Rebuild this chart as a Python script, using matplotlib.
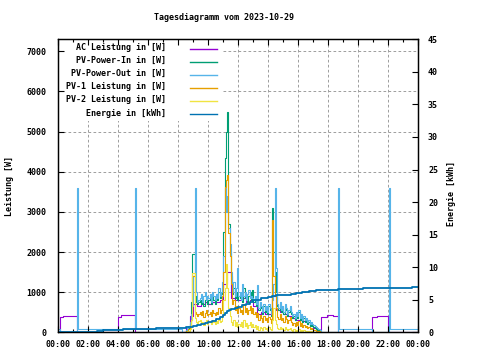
import numpy as np
import matplotlib
matplotlib.use("Agg")
import matplotlib.pyplot as plt
from matplotlib.lines import Line2D
from matplotlib.patches import Rectangle

# ---------------- data ----------------
title = "Tagesdiagramm vom 2023-10-29"
labels = ["AC Leistung in [W]", "PV-Power-In in [W]", "PV-Power-Out in [W]",
          "PV-1 Leistung in [W]", "PV-2 Leistung in [W]", "Energie in [kWh]"]
colors = ["#9400D3", "#009E73", "#56B4E9", "#E69F00", "#F0E442", "#0072B2"]

x_ticks = [0, 2, 4, 6, 8, 10, 12, 14, 16, 18, 20, 22, 24]
x_ticklabels = ["00:00", "02:00", "04:00", "06:00", "08:00", "10:00", "12:00",
                "14:00", "16:00", "18:00", "20:00", "22:00", "00:00"]
y_ticks = [0, 1000, 2000, 3000, 4000, 5000, 6000, 7000]
y2_ticks = [0, 5, 10, 15, 20, 25, 30, 35, 40, 45]

# daytime samples every 5 minutes, 08:30 .. 17:30 (hours)
day_start = 8.5
day_step = 5 / 60

pv_in_day = [30, 50, 100, 200, 760, 1950,
             1950, 900, 750, 700, 750, 800, 700, 850, 650, 800, 900, 700,
             800, 850, 700, 900, 800, 700, 850, 800, 1000, 850, 950, 1100,
             2500, 4350, 5000, 5490, 2700, 2000, 1400, 950, 1100, 850, 1000, 800,
             900, 850, 950, 750, 1100, 850, 950, 750, 900, 1000, 800, 1050,
             750, 850, 650, 800, 550, 700, 600, 450, 650, 500, 600, 450,
             650, 550, 400, 3100, 2000, 1500, 1000, 650, 550, 700, 500, 600,
             450, 650, 550, 400, 500, 600, 450, 350, 400, 300, 450, 350,
             500, 300, 400, 250, 350, 250, 300, 200, 250, 150, 200, 150,
             130, 100, 80, 60, 50, 40, 0]

pv_out_day = [60, 100, 150, 250, 450, 650,
              1400, 3600, 1000, 750, 800, 850, 950, 750, 900, 1000, 800, 900,
              850, 950, 750, 1000, 900, 800, 950, 850, 1100, 900, 1000, 1250,
              1900, 3600, 3000, 3400, 2600, 2200, 1500, 1000, 1250, 900, 1100, 1600,
              900, 1000, 800, 1200, 900, 1000, 800, 950, 1050, 850, 900, 850,
              800, 900, 700, 1180, 600, 750, 650, 500, 700, 550, 650, 500,
              700, 600, 450, 800, 1200, 3600, 1600, 700, 600, 750, 550, 650,
              500, 700, 600, 450, 550, 650, 500, 400, 450, 350, 500, 400,
              550, 350, 450, 300, 400, 300, 350, 250, 300, 200, 250, 200,
              180, 150, 120, 100, 80, 60, 0]

pv1_day = [20, 40, 80, 150, 300, 1400,
           1400, 500, 450, 400, 450, 500, 420, 520, 380, 480, 550, 420,
           450, 500, 400, 550, 480, 420, 500, 450, 600, 480, 550, 900,
           1500, 3630, 3800, 3920, 2480, 1900, 1200, 700, 800, 550, 650, 480,
           600, 500, 550, 450, 700, 500, 600, 450, 550, 650, 480, 600,
           450, 500, 380, 480, 300, 420, 350, 250, 400, 300, 350, 250,
           380, 320, 220, 2800, 1400, 900, 600, 380, 320, 450, 300, 350,
           250, 400, 320, 220, 300, 380, 250, 180, 220, 150, 250, 180,
           280, 150, 220, 120, 180, 120, 150, 100, 120, 80, 100, 70,
           60, 50, 40, 30, 20, 10, 0]

pv2_day = [10, 20, 40, 80, 300, 1480,
           1480, 350, 250, 200, 280, 300, 220, 260, 180, 250, 300, 200,
           250, 280, 200, 300, 250, 200, 280, 220, 300, 250, 280, 400,
           800, 1100, 1700, 1100, 600, 400, 250, 180, 300, 150, 250, 120,
           200, 150, 250, 120, 300, 150, 220, 100, 180, 250, 120, 200,
           120, 180, 80, 150, 60, 120, 100, 50, 130, 70, 110, 60,
           120, 80, 50, 300, 600, 300, 200, 100, 80, 140, 70, 100,
           60, 120, 90, 50, 80, 110, 60, 40, 70, 30, 60, 40,
           80, 30, 60, 20, 50, 30, 40, 20, 30, 15, 20, 10,
           10, 10, 5, 5, 0, 0, 0]

# AC power: daytime every 15 minutes 08:30 .. 17:30
ac_step = 15 / 60
ac_day = [100, 400, 700, 650, 700, 750, 700, 750, 750, 800, 1200, 1500,
          850, 800, 800, 850, 750, 800, 650, 450, 500, 450, 450, 900,
          550, 500, 450, 400, 350, 300, 300, 280, 250, 180, 100, 50, 380]
ac_night_t = [0.0, 0.12, 0.33, 1.25, 4.0, 4.2, 5.12]
ac_night_v = [0, 390, 410, 0, 390, 420, 0]
ac_eve_t = [17.9, 18.3, 18.63, 20.93, 21.25, 22.0, 24.0]
ac_eve_v = [420, 400, 0, 390, 410, 0, 0]

out_night_t = [0.0, 0.12, 1.25, 1.3, 5.12, 5.17, 8.25]
out_night_v = [75, 0, 3600, 75, 3600, 75, 0]
out_eve_t = [18.63, 18.68, 20.93, 22.05, 22.1, 24.0]
out_eve_v = [3600, 75, 0, 3600, 75, 75]

energy_t = [0, 1.25, 2.2, 2.6, 3.0, 3.8, 4.3, 5.2, 6.5, 7.5, 8.5, 9.0, 9.25,
            9.5, 9.75, 10.0, 10.25, 10.5, 10.75, 11.0, 11.1, 11.25, 11.4, 11.5,
            11.75, 12.0, 12.25, 12.5, 12.75, 13.0, 13.25, 13.5, 13.75, 14.0,
            14.25, 14.5, 14.75, 15.0, 15.5, 15.85, 16.25, 16.7, 17.15, 18.63,
            20.28, 23.55, 24.0]
energy_v = [0, 0.05, 0.1, 0.2, 0.3, 0.35, 0.45, 0.5, 0.6, 0.7, 0.8, 1.0, 1.1,
            1.3, 1.45, 1.6, 1.8, 2.0, 2.3, 2.6, 2.9, 3.2, 3.4, 3.6,
            3.75, 3.9, 4.2, 4.4, 4.7, 4.9, 5.0, 5.2, 5.3, 5.4,
            5.5, 5.7, 5.75, 5.8, 5.9, 6.0, 6.2, 6.35, 6.45, 6.6,
            6.75, 7.0, 7.0]

# ---------------- build series ----------------
day_t = day_start + np.arange(len(pv_in_day)) * day_step
ac_day_t = day_start + np.arange(len(ac_day)) * ac_step

ac_t = np.concatenate([ac_night_t, ac_day_t, ac_eve_t])
ac_v = np.concatenate([ac_night_v, ac_day, ac_eve_v])
out_t = np.concatenate([out_night_t, day_t, out_eve_t])
out_v = np.concatenate([out_night_v, pv_out_day, out_eve_v])

# ---------------- figure ----------------
FONT = "DejaVu Sans Mono"
FS = 6
plt.rcParams["font.family"] = FONT
plt.rcParams["font.size"] = FS
plt.rcParams["font.weight"] = "bold"

fig = plt.figure(figsize=(4.8, 3.6), dpi=100)
fig.patch.set_facecolor("white")
L, R, B, T = 58.3 / 480, 418.3 / 480, (360 - 332.3) / 360, (360 - 39.3) / 360
ax = fig.add_axes([L, B, R - L, T - B])
ax.set_axisbelow(False)

lw = 0.8
ax.plot(ac_t, ac_v, color=colors[0], lw=lw, drawstyle="steps-post", zorder=2)
ax.plot(day_t, pv_in_day, color=colors[1], lw=lw, drawstyle="steps-post", zorder=2)
ax.plot(out_t, out_v, color=colors[2], lw=lw, drawstyle="steps-post", zorder=2)
ax.plot(day_t, pv1_day, color=colors[3], lw=lw, drawstyle="steps-post", zorder=2)
ax.plot(day_t, pv2_day, color=colors[4], lw=lw, drawstyle="steps-post", zorder=2)

ax.set_xlim(0, 24)
ax.set_ylim(0, 7300)

# grid (gnuplot style dashed)
gkw = dict(color="#a0a0a0", lw=0.72, linestyle=(0, (2.7, 2.3)), zorder=1)
for yv in y_ticks[1:]:
    ax.axhline(yv, **gkw)
for xv in x_ticks[1:-1]:
    ax.axvline(xv, **gkw)

ax.set_xticks(x_ticks)
ax.set_xticklabels(x_ticklabels)
ax.set_xticks(range(1, 24, 2), minor=True)
ax.set_yticks(y_ticks)
ax.set_yticklabels([str(v) for v in y_ticks])
ax.tick_params(axis="x", which="major", direction="in", length=4, width=0.8,
               top=True, bottom=True, pad=5.5, labelsize=FS)
ax.tick_params(axis="x", which="minor", direction="in", length=2, width=0.8,
               top=True, bottom=True)
ax.tick_params(axis="y", which="major", direction="in", length=4, width=0.8,
               left=True, right=False, pad=8.5, labelsize=FS)
for sp in ax.spines.values():
    sp.set_linewidth(0.9)
    sp.set_color("black")

# energy on secondary axis
ax2 = ax.twinx()
ax2.plot(energy_t, energy_v, color=colors[5], lw=1.3, drawstyle="steps-post")
ax2.set_ylim(0, 45)
ax2.set_yticks(y2_ticks)
ax2.set_yticklabels([str(v) for v in y2_ticks])
ax2.tick_params(axis="y", direction="in", length=4, width=0.8, pad=7, labelsize=FS)
for sp in ax2.spines.values():
    sp.set_linewidth(0.9)

# opaque key (legend) in upper left
ax.add_patch(Rectangle((0.002, 0.721), 0.453, 0.276, transform=ax.transAxes,
                       facecolor="white", edgecolor="none", zorder=2.2))
row_px = [49, 62, 75, 88, 101, 114.3]
for lab, col, ypx in zip(labels, colors, row_px):
    yf = (332.3 - ypx) / 293.0
    ax.text(0.299, yf + 0.004, lab, transform=ax.transAxes, ha="right",
            va="center", fontsize=FS, zorder=2.3)
    ax.add_line(Line2D([0.366, 0.442], [yf, yf], transform=ax.transAxes,
                       color=col, lw=1.0, zorder=2.3))

fig.text(223.7 / 480, (360 - 17.3) / 360, title, ha="center", va="center",
         fontsize=FS)
fig.text(10 / 480, (360 - 186) / 360, "Leistung [W]", rotation=90,
         ha="center", va="center", fontsize=FS)
fig.text(451.7 / 480, (360 - 194) / 360, "Energie [kWh]", rotation=90,
         ha="center", va="center", fontsize=FS)

fig.savefig("out.png", dpi=100)
